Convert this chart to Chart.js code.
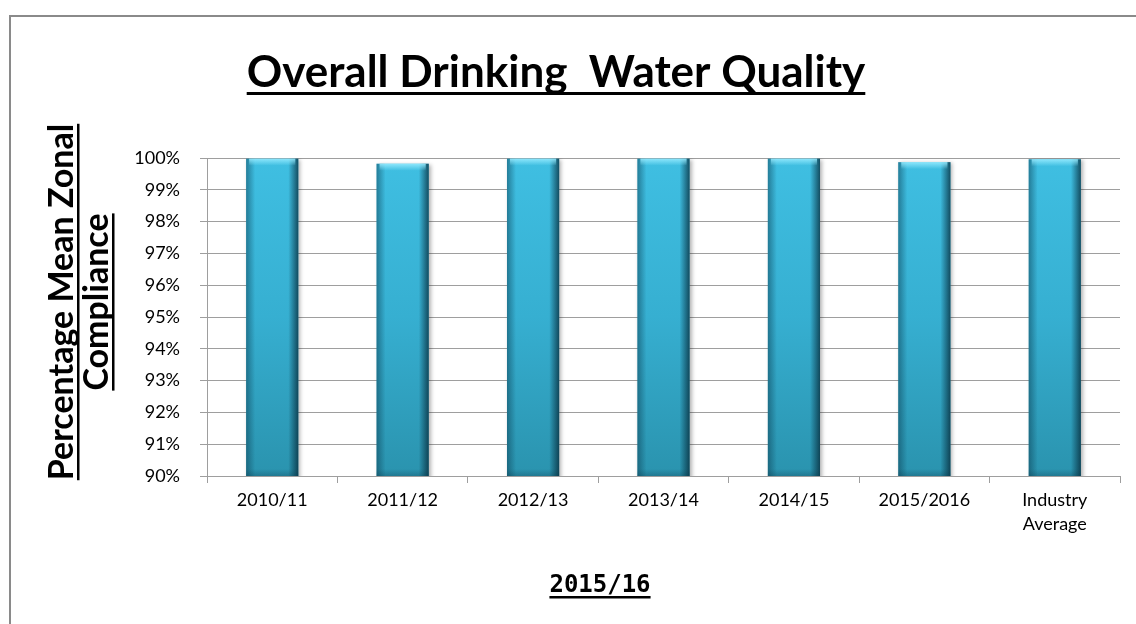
<!DOCTYPE html>
<html><head><meta charset="utf-8">
<script src="https://cdn.jsdelivr.net/npm/chart.js@4.4.0/dist/chart.umd.min.js"></script>
<style>html,body{margin:0;padding:0;background:#fff;}#wrap{width:1136px;height:624px;position:relative;}</style>
</head><body><div id="wrap"><canvas id="c" width="1136" height="624"></canvas></div>
<script>
// ---- data ----
const categories = ['2010/11', '2011/12', '2012/13', '2013/14', '2014/15', '2015/2016', ['Industry', 'Average']];
const compliance = [99.98, 99.82, 99.98, 99.98, 99.98, 99.87, 99.96];
const yTickValues = [90, 91, 92, 93, 94, 95, 96, 97, 98, 99, 100];
const chartTitle = 'Overall Drinking  Water Quality';
const yTitleLines = ['Percentage Mean Zonal', 'Compliance'];
const xTitle = '2015/16';

const SANS = 'Lato, "Open Sans", sans-serif';
const GRID = '#9E9E9E';

function underlinedText(ctx, text, x, y, font, lineW, gap) {
  ctx.font = font;
  ctx.textAlign = 'center';
  ctx.textBaseline = 'alphabetic';
  ctx.fillStyle = '#000';
  ctx.fillText(text, x, y);
  const w = ctx.measureText(text).width;
  ctx.fillRect(x - w / 2, y + gap, w, lineW);
}

const decor = {
  id: 'decor',
  beforeDatasetsDraw(chart) {
    const ctx = chart.ctx;
    ctx.save();
    ctx.shadowColor = 'rgba(0,0,0,0.3)';
    ctx.shadowBlur = 4;
    ctx.shadowOffsetX = 2;
    ctx.shadowOffsetY = 1;
  },
  afterDatasetsDraw(chart) {
    const ctx = chart.ctx;
    ctx.restore();
    const area = chart.chartArea;
    const meta = chart.getDatasetMeta(0);
    ctx.save();
    ctx.beginPath();
    ctx.rect(area.left, area.top - 2, area.right - area.left, area.bottom - area.top + 2);
    ctx.clip();
    meta.data.forEach(el => {
      const p = el.getProps(['x', 'y', 'width'], true);
      const l = p.x - p.width / 2, r = p.x + p.width / 2;
      const t = p.y, b = area.bottom;
      // left edge shading
      let g = ctx.createLinearGradient(l, 0, l + 9, 0);
      g.addColorStop(0, 'rgba(10,60,80,0.5)');
      g.addColorStop(1, 'rgba(10,60,80,0)');
      ctx.fillStyle = g; ctx.fillRect(l, t, 9, b - t);
      // right edge shading
      g = ctx.createLinearGradient(r - 10, 0, r, 0);
      g.addColorStop(0, 'rgba(5,40,55,0)');
      g.addColorStop(1, 'rgba(5,40,55,0.75)');
      ctx.fillStyle = g; ctx.fillRect(r - 10, t, 10, b - t);
      // top bevel highlight
      g = ctx.createLinearGradient(0, t, 0, t + 7);
      g.addColorStop(0, 'rgba(150,235,255,0.9)');
      g.addColorStop(1, 'rgba(150,235,255,0)');
      ctx.fillStyle = g; ctx.fillRect(l + 3, t, p.width - 6, 7);
      // bottom darkening
      g = ctx.createLinearGradient(0, b - 7, 0, b);
      g.addColorStop(0, 'rgba(10,60,80,0)');
      g.addColorStop(1, 'rgba(10,60,80,0.3)');
      ctx.fillStyle = g; ctx.fillRect(l, b - 7, p.width, 7);
    });
    ctx.restore();
  },
  afterDraw(chart) {
    const ctx = chart.ctx;
    const area = chart.chartArea;
    ctx.save();
    // outer chart border
    ctx.strokeStyle = '#8A8A8A';
    ctx.lineWidth = 2;
    ctx.strokeRect(10, 16, 1300, 800);
    // main title
    underlinedText(ctx, chartTitle, 556, 87, 'bold 44px ' + SANS, 3, 5);
    // y-axis title (rotated, two lines)
    const cy = (area.top + area.bottom) / 2 - 15;
    const ybase = [73, 108];
    yTitleLines.forEach((line, i) => {
      ctx.save();
      ctx.translate(ybase[i], cy);
      ctx.rotate(-Math.PI / 2);
      underlinedText(ctx, line, 0, 0, 'bold 34px ' + SANS, 2.5, 4);
      ctx.restore();
    });
    // x-axis title
    underlinedText(ctx, xTitle, 600, 592, 'bold 24px "DejaVu Sans Mono", monospace', 2.5, 4);
    ctx.restore();
  }
};

new Chart(document.getElementById('c'), {
  type: 'bar',
  data: {
    labels: categories,
    datasets: [{
      data: compliance,
      backgroundColor(c) {
        const area = c.chart.chartArea;
        if (!area) return '#3BBCE0';
        const g = c.chart.ctx.createLinearGradient(0, area.top, 0, area.bottom);
        g.addColorStop(0, '#3FBFE2');
        g.addColorStop(0.5, '#36AFD1');
        g.addColorStop(1, '#2A93AE');
        return g;
      },
      borderWidth: 0,
      barPercentage: 0.4,
      categoryPercentage: 1.0
    }]
  },
  options: {
    responsive: false,
    animation: false,
    devicePixelRatio: 1,
    layout: { padding: { left: 10, right: 16, top: 158, bottom: 0 } },
    plugins: { legend: { display: false }, tooltip: { enabled: false }, title: { display: false } },
    scales: {
      x: {
        afterFit(s) { s.height = 148; },
        grid: { display: true, drawOnChartArea: false, color: GRID, tickLength: 7, offset: true },
        border: { display: true, color: GRID, width: 1 },
        ticks: { color: '#000', font: { family: SANS, size: 18, lineHeight: 1.35 }, padding: 5, maxRotation: 0, autoSkip: false }
      },
      y: {
        min: 90, max: 100,
        afterFit(s) { s.width = 197; },
        afterBuildTicks(s) { s.ticks = yTickValues.map(v => ({ value: v })); },
        grid: { color: GRID, lineWidth: 1, tickLength: 7 },
        border: { display: true, color: GRID, width: 1 },
        ticks: { color: '#000', font: { family: SANS, size: 18 }, padding: 20, callback: v => v + '%' }
      }
    }
  },
  plugins: [decor]
});
</script>
</body></html>
